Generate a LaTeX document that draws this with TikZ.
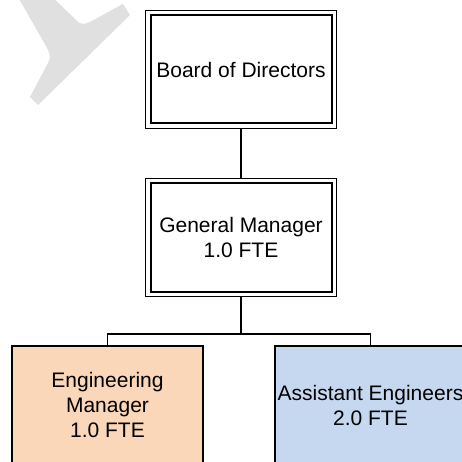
\documentclass[tikz,border=0pt]{standalone}
\usepackage{fontspec}
\setmainfont{Liberation Sans}
\definecolor{wmgray}{HTML}{E0E0E0}
\definecolor{engfill}{HTML}{FAD7B8}
\definecolor{asfill}{HTML}{C6D8EF}
\tikzset{
  lbl/.style={align=center, font=\fontsize{21}{25}\selectfont, inner sep=0pt},
  dbox/.style={lbl, draw, line width=1pt, minimum width=191pt, minimum height=118pt,
    path picture={\draw[line width=2pt]
      ([shift={(5pt,-5pt)}]path picture bounding box.north west) rectangle
      ([shift={(-5pt,5pt)}]path picture bounding box.south east);}},
  cbox/.style={lbl, draw, line width=1.3pt, minimum width=191pt, minimum height=118pt},
  conn/.style={draw, line width=1.6pt},
}
\begin{document}
\begin{tikzpicture}[x=1pt, y=-1pt]
\useasboundingbox (0,0) rectangle (462,462);
\clip (0,0) rectangle (462,462);
\fill[white] (0,0) rectangle (462,462);
% watermark
\fill[wmgray] (14,-10) -- (46,46) .. controls (50,53) and (51,57) .. (48,63) -- (30,97) -- (38,105) -- (130,15) -- (123,4) -- (90,22) .. controls (84,25) and (79,24) .. (76,20) -- (45,-10) -- cycle;
% nodes
\node[dbox] (board) at (241,69.5) {Board of Directors};
\node[dbox] (gm) at (241,237.5) {General Manager\\1.0 FTE};
\node[cbox, fill=engfill] (eng) at (107.5,405) {Engineering\\Manager\\1.0 FTE};
\node[cbox, fill=asfill] (asst) at (370.5,405) {Assistant Engineers\\2.0 FTE};
\coordinate (bus) at (241,334);
% connectors
\draw[conn] (board.south) -- (gm.north);
\draw[conn] (gm.south) -- (bus) -| (eng.north);
\draw[conn] (bus) -| (asst.north);
\end{tikzpicture}
\end{document}
